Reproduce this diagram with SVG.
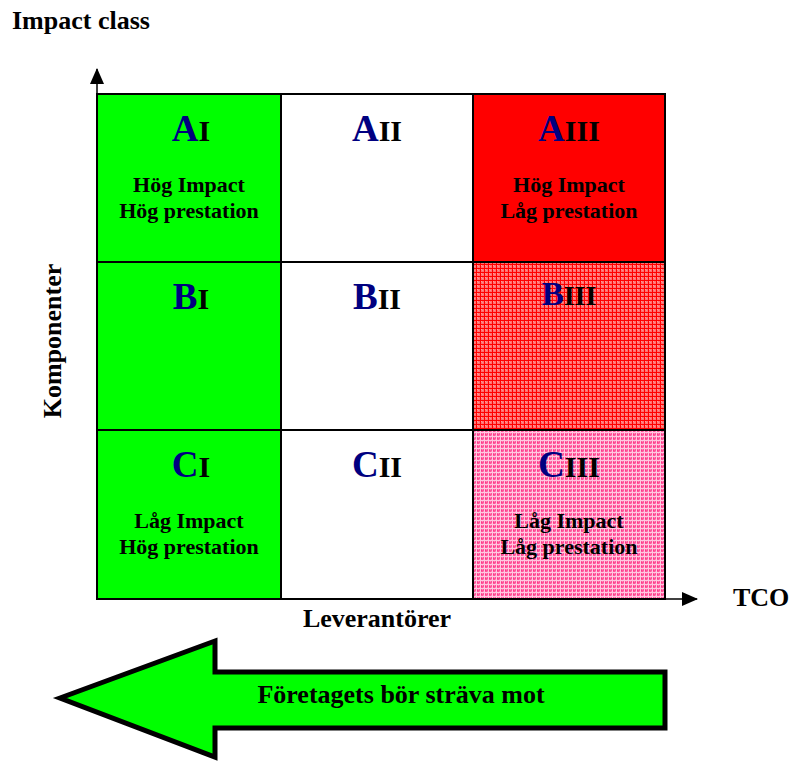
<svg xmlns="http://www.w3.org/2000/svg" width="792" height="763" viewBox="0 0 792 763">
  <style>
    text { font-family: "Liberation Serif", "Times New Roman", serif; font-weight: bold; fill: #000; }
    .cell { stroke: #000; stroke-width: 2; }
    .big { font-size: 37px; fill: #000080; }
    .rom { font-size: 30px; fill: #000; }
    .lbl { font-size: 22px; text-anchor: middle; }
    .title { font-size: 26px; }
    .axis { stroke: #000; stroke-width: 1.5; fill: none; }
  </style>
  <defs>
    <!-- dense red grid fill -->
    <pattern id="redGrid" width="4" height="4" patternUnits="userSpaceOnUse">
      <rect width="4" height="4" fill="#ff7070"/>
      <rect x="1" y="1" width="1" height="1" fill="#ffa0a0"/>
      <rect x="2" y="2" width="1" height="1" fill="#ff9090"/>
      <rect width="4" height="1" fill="#ff0000"/>
      <rect width="1" height="4" fill="#ff0000"/>
    </pattern>
    <!-- pink fill with light grid -->
    <pattern id="pinkGrid" width="4" height="4" patternUnits="userSpaceOnUse">
      <rect width="4" height="4" fill="#ff5599"/>
      <rect x="2" y="1" width="1" height="1" fill="#ff88bb"/>
      <rect x="1" y="2" width="1" height="1" fill="#ff3388"/>
      <rect x="3" y="3" width="1" height="1" fill="#ff88bb"/>
      <rect width="4" height="1" fill="#ffc8e0"/>
      <rect width="1" height="4" fill="#ffc8e0"/>
    </pattern>
    <marker id="tri" viewBox="0 0 16 14" refX="15" refY="7" markerWidth="16" markerHeight="14" markerUnits="userSpaceOnUse" orient="auto">
      <path d="M0,0 L16,7 L0,14 z" fill="#000"/>
    </marker>
  </defs>

  <!-- axis titles -->
  <text class="title" x="12" y="29">Impact class</text>
  <text class="title" x="733" y="606">TCO</text>
  <text class="title" x="377" y="627" text-anchor="middle">Leverantörer</text>
  <text class="title" transform="translate(61,341) rotate(-90)" text-anchor="middle">Komponenter</text>

  <!-- axes -->
  <g id="connectors">
    <line class="axis" x1="97" y1="599" x2="97" y2="69" marker-end="url(#tri)"/>
    <line class="axis" x1="97" y1="599" x2="697" y2="599" marker-end="url(#tri)"/>
  </g>

  <!-- matrix cells -->
  <g id="AI">
    <rect class="cell" x="97" y="94" width="184" height="168" fill="#00ff00"/>
    <text x="191" y="141" text-anchor="middle"><tspan class="big">A</tspan><tspan class="rom">I</tspan></text>
    <text class="lbl" x="189" y="192">Hög Impact</text>
    <text class="lbl" x="189" y="218">Hög prestation</text>
  </g>
  <g id="AII">
    <rect class="cell" x="281" y="94" width="192" height="168" fill="#fff"/>
    <text x="377" y="141" text-anchor="middle"><tspan class="big">A</tspan><tspan class="rom">II</tspan></text>
  </g>
  <g id="AIII">
    <rect class="cell" x="473" y="94" width="192" height="168" fill="#ff0000"/>
    <text x="569" y="141" text-anchor="middle"><tspan class="big">A</tspan><tspan class="rom">III</tspan></text>
    <text class="lbl" x="569" y="192">Hög Impact</text>
    <text class="lbl" x="569" y="218">Låg prestation</text>
  </g>
  <g id="BI">
    <rect class="cell" x="97" y="262" width="184" height="168" fill="#00ff00"/>
    <text x="191" y="309" text-anchor="middle"><tspan class="big">B</tspan><tspan class="rom">I</tspan></text>
  </g>
  <g id="BII">
    <rect class="cell" x="281" y="262" width="192" height="168" fill="#fff"/>
    <text x="377" y="309" text-anchor="middle"><tspan class="big">B</tspan><tspan class="rom">II</tspan></text>
  </g>
  <g id="BIII">
    <rect class="cell" x="473" y="262" width="192" height="168" fill="url(#redGrid)"/>
    <text x="569" y="305" text-anchor="middle"><tspan class="big" style="font-size:33px">B</tspan><tspan class="rom" style="font-size:28px">III</tspan></text>
  </g>
  <g id="CI">
    <rect class="cell" x="97" y="430" width="184" height="169" fill="#00ff00"/>
    <text x="191" y="477" text-anchor="middle"><tspan class="big">C</tspan><tspan class="rom">I</tspan></text>
    <text class="lbl" x="189" y="528">Låg Impact</text>
    <text class="lbl" x="189" y="554">Hög prestation</text>
  </g>
  <g id="CII">
    <rect class="cell" x="281" y="430" width="192" height="169" fill="#fff"/>
    <text x="377" y="477" text-anchor="middle"><tspan class="big">C</tspan><tspan class="rom">II</tspan></text>
  </g>
  <g id="CIII">
    <rect class="cell" x="473" y="430" width="192" height="169" fill="url(#pinkGrid)"/>
    <text x="569" y="477" text-anchor="middle"><tspan class="big">C</tspan><tspan class="rom">III</tspan></text>
    <text class="lbl" x="569" y="528">Låg Impact</text>
    <text class="lbl" x="569" y="554">Låg prestation</text>
  </g>

  <!-- direction arrow -->
  <g id="strive">
    <path d="M60,698 L215,641 L215,672 L665,672 L665,728 L215,728 L215,757 Z" fill="#00ff00" stroke="#000" stroke-width="5" stroke-linejoin="miter"/>
    <text x="401" y="703" font-size="26" text-anchor="middle">Företagets bör sträva mot</text>
  </g>
</svg>
